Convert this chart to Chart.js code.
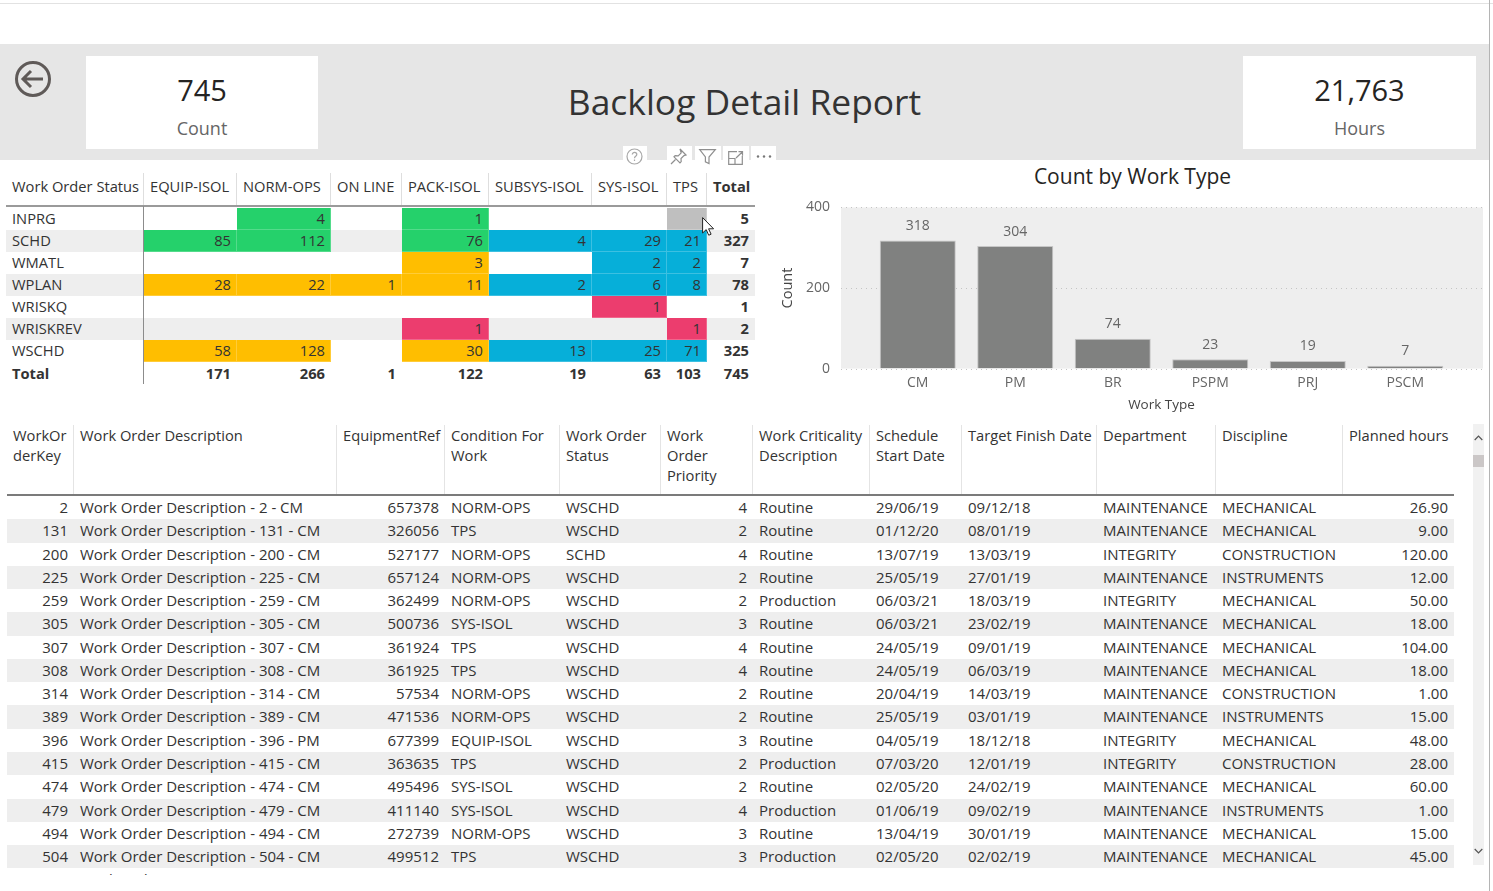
<!DOCTYPE html>
<html>
<head>
<meta charset="utf-8">
<title>Backlog Detail Report</title>
<script src="https://cdn.jsdelivr.net/npm/chart.js@4/dist/chart.umd.min.js"></script>
<style>
html, body { margin: 0; padding: 0; background: #fff; }
body { width: 1493px; height: 891px; overflow: hidden; position: relative; font-family: "Open Sans", sans-serif; color: #333; font-size: 14.7px; }
.abs { position: absolute; }
.topline { left: 0; top: 3px; width: 1493px; height: 1px; background: #e2e2e2; }
.edge { left: 1489px; top: 0; width: 1px; height: 891px; background: #b4b4b4; }
.band { left: 0; top: 44px; width: 1489px; height: 116px; background: #e6e6e6; }
.card { top: 56px; height: 93px; background: #fff; text-align: center; }
.card .val { position: absolute; left: 0; right: 0; top: 14px; font-size: 29px; line-height: 40px; color: #252423; }
.card .lab { position: absolute; left: 0; right: 0; top: 59px; font-size: 18px; line-height: 26px; color: #666; }
.report { left: 0; width: 1489px; top: 77px; text-align: center; font-size: 35.4px; line-height: 48px; color: #333; }
.tab { top: 146px; height: 14px; background: #fff; }
.row { position: absolute; display: flex; }
.cell { box-sizing: border-box; padding: 0 6px; white-space: nowrap; overflow: visible; }
.num { text-align: right; }
.bold { font-weight: 700; }
#matrix { left: 6px; top: 173px; width: 749px; height: 212px; }
#matrix .head { top: 0; height: 34px; border-bottom: 2px solid #9a9a9a; box-sizing: border-box; width: 749px; }
#matrix .head .cell { border-right: 1px solid #dedede; line-height: 26px; }
#matrix .body { line-height: 21px; height: 22px; width: 749px; }
#matrix .filled { box-shadow: inset -1px -1px 0 rgba(255,255,255,.22); }
#matrix .stub { position: absolute; left: 137px; top: 33px; width: 1px; height: 178px; background: #8c8c8c; }
#detail { left: 7px; top: 425px; width: 1447px; height: 450px; overflow: hidden; }
#detail .head { top: 0; height: 71px; width: 1447px; border-bottom: 2px solid #7b7b7b; box-sizing: border-box; }
#detail .head .cell { border-right: 1px solid #e4e4e4; line-height: 20px; white-space: pre; }
#detail .body { height: 23.27px; line-height: 23px; width: 1447px; font-size: 15px; }
.stripe { background: #eeeeee; }
#chartTitle { left: 772px; top: 161px; width: 721px; text-align: center; font-size: 21px; line-height: 30px; color: #252423; }
#chartBox { position: absolute; left: 772px; top: 160px; width: 720px; height: 256px; }
.track { left: 1473px; top: 424px; width: 11px; height: 441px; background: #f1f1f1; }
.thumb { left: 1473px; top: 455px; width: 11px; height: 12px; background: #cbc7c7; }
svg { position: absolute; overflow: visible; }
</style>
</head>
<body>
<div class="abs topline"></div>
<div class="abs band"></div>
<div class="abs edge"></div>

<svg style="left:14px;top:60px" width="38" height="38" viewBox="0 0 38 38" fill="none" stroke="#5f5a58" stroke-width="3">
  <circle cx="19" cy="19" r="16.5"/>
  <path d="M29 19H9M17 11l-8 8 8 8"/>
</svg>

<div class="abs card" style="left:86px;width:232px"><div class="val" id="countVal"></div><div class="lab">Count</div></div>
<div class="abs report">Backlog Detail Report</div>
<div class="abs card" style="left:1243px;width:233px"><div class="val" id="hoursVal"></div><div class="lab">Hours</div></div>

<div class="abs tab" style="left:623px;width:24px"></div>
<div class="abs tab" style="left:667px;width:25px"></div>
<div class="abs tab" style="left:695px;width:26px"></div>
<div class="abs tab" style="left:723px;width:26px"></div>
<div class="abs tab" style="left:751px;width:25px"></div>
<svg style="left:626px;top:148px" width="18" height="18" fill="none" stroke="#a8a8a8" stroke-width="1.2">
  <circle cx="8.5" cy="8.5" r="7.5"/><path d="M6.3 6.6c0-3 4.5-3 4.5 0 0 1.8-2.3 1.7-2.3 3.6M8.5 11.6v1.4"/>
</svg>
<svg style="left:670px;top:148px" width="18" height="18" fill="none" stroke="#8f8f8f" stroke-width="1.2">
  <path d="M10 1l6 6-2 .6-3 3 .2 3-1.2 1.2-6-6 1.2-1.2 3 .2 3-3zM5.5 11.5L1 16"/>
</svg>
<svg style="left:699px;top:149px" width="18" height="16" fill="none" stroke="#8f8f8f" stroke-width="1.2">
  <path d="M.7 .7h15.6L10 8v6.5l-3.6-1.6V8z"/>
</svg>
<svg style="left:728px;top:151px" width="16" height="14" fill="none" stroke="#8f8f8f" stroke-width="1.2">
  <path d="M9 .7H.7v12.6h13.6V5M.7 7.5H7v5.8M8 7L14.5 .7M10.5 .7h4v4"/>
</svg>
<svg style="left:756px;top:155px" width="16" height="4" fill="#777">
  <circle cx="2" cy="1.5" r="1.2"/><circle cx="8" cy="1.5" r="1.2"/><circle cx="14" cy="1.5" r="1.2"/>
</svg>

<div class="abs" id="matrix"></div>
<svg style="left:702px;top:217px" width="13" height="20" fill="#fff" stroke="#222" stroke-width="1">
  <path d="M.6 .6v15.4l3.6-3.4 2.5 5.6 2.4-1-2.5-5.4h5z"/>
</svg>

<div class="abs" id="chartTitle">Count by Work Type</div>
<div id="chartBox"><canvas id="workTypeChart"></canvas></div>

<div class="abs" id="detail"></div>
<div class="abs track"></div>
<div class="abs thumb"></div>
<svg style="left:1474px;top:435px" width="9" height="6" fill="none" stroke="#555" stroke-width="1.2"><path d="M.7 5L4.5 1l3.8 4"/></svg>
<svg style="left:1474px;top:848px" width="9" height="6" fill="none" stroke="#555" stroke-width="1.2"><path d="M.7 1l3.8 4 3.8-4"/></svg>

<script>
// card values
const countTotal = "745"
const hoursTotal = "21,763"

// bar chart
const workTypes = ["CM", "PM", "BR", "PSPM", "PRJ", "PSCM"]
const workTypeCounts = [318, 304, 74, 23, 19, 7]
const countTicks = [0, 200, 400]

// matrix
const conditionCols = ["EQUIP-ISOL", "NORM-OPS", "ON LINE", "PACK-ISOL", "SUBSYS-ISOL", "SYS-ISOL", "TPS"]
const statusRows = ["INPRG", "SCHD", "WMATL", "WPLAN", "WRISKQ", "WRISKREV", "WSCHD"]
const inprgCounts = [null, 4, null, 1, null, null, null]
const schdCounts = [85, 112, null, 76, 4, 29, 21]
const wmatlCounts = [null, null, null, 3, null, 2, 2]
const wplanCounts = [28, 22, 1, 11, 2, 6, 8]
const wriskqCounts = [null, null, null, null, null, 1, null]
const wriskrevCounts = [null, null, null, 1, null, null, 1]
const wschdCounts = [58, 128, null, 30, 13, 25, 71]
const rowTotals = [5, 327, 7, 78, 1, 2, 325]
const colTotals = [171, 266, 1, 122, 19, 63, 103]
const grandTotal = 745

// detail table
const detailHeaders = ["WorkOr\nderKey", "Work Order Description", "EquipmentRef", "Condition For\nWork", "Work Order\nStatus", "Work\nOrder\nPriority", "Work Criticality\nDescription", "Schedule\nStart Date", "Target Finish Date", "Department", "Discipline", "Planned hours"]
const orderKeys = [2, 131, 200, 225, 259, 305, 307, 308, 314, 389, 396, 415, 474, 479, 494, 504, 514]
const orderTypes = ["CM", "CM", "CM", "CM", "CM", "CM", "CM", "CM", "CM", "CM", "PM", "CM", "CM", "CM", "CM", "CM", "CM"]
const equipmentRefs = [657378, 326056, 527177, 657124, 362499, 500736, 361924, 361925, 57534, 471536, 677399, 363635, 495496, 411140, 272739, 499512, 51600]
const conditions = ["NORM-OPS", "TPS", "NORM-OPS", "NORM-OPS", "NORM-OPS", "SYS-ISOL", "TPS", "TPS", "NORM-OPS", "NORM-OPS", "EQUIP-ISOL", "TPS", "SYS-ISOL", "SYS-ISOL", "NORM-OPS", "TPS", "NORM-OPS"]
const statuses = ["WSCHD", "WSCHD", "SCHD", "WSCHD", "WSCHD", "WSCHD", "WSCHD", "WSCHD", "WSCHD", "WSCHD", "WSCHD", "WSCHD", "WSCHD", "WSCHD", "WSCHD", "WSCHD", "WSCHD"]
const priorities = [4, 2, 4, 2, 2, 3, 4, 4, 2, 2, 3, 2, 2, 4, 3, 3, 2]
const criticalities = ["Routine", "Routine", "Routine", "Routine", "Production", "Routine", "Routine", "Routine", "Routine", "Routine", "Routine", "Production", "Routine", "Production", "Routine", "Production", "Routine"]
const startDates = ["29/06/19", "01/12/20", "13/07/19", "25/05/19", "06/03/21", "06/03/21", "24/05/19", "24/05/19", "20/04/19", "25/05/19", "04/05/19", "07/03/20", "02/05/20", "01/06/19", "13/04/19", "02/05/20", "24/03/19"]
const targetDates = ["09/12/18", "08/01/19", "13/03/19", "27/01/19", "18/03/19", "23/02/19", "09/01/19", "06/03/19", "14/03/19", "03/01/19", "18/12/18", "12/01/19", "24/02/19", "09/02/19", "30/01/19", "02/02/19", "27/03/19"]
const departments = ["MAINTENANCE", "MAINTENANCE", "INTEGRITY", "MAINTENANCE", "INTEGRITY", "MAINTENANCE", "MAINTENANCE", "MAINTENANCE", "MAINTENANCE", "MAINTENANCE", "INTEGRITY", "INTEGRITY", "MAINTENANCE", "MAINTENANCE", "MAINTENANCE", "MAINTENANCE", "MAINTENANCE"]
const disciplines = ["MECHANICAL", "MECHANICAL", "CONSTRUCTION", "INSTRUMENTS", "MECHANICAL", "MECHANICAL", "MECHANICAL", "MECHANICAL", "CONSTRUCTION", "INSTRUMENTS", "MECHANICAL", "CONSTRUCTION", "MECHANICAL", "INSTRUMENTS", "MECHANICAL", "MECHANICAL", "INSTRUMENTS"]
const plannedHours = ["26.90", "9.00", "120.00", "12.00", "50.00", "18.00", "104.00", "18.00", "1.00", "15.00", "48.00", "28.00", "60.00", "1.00", "15.00", "45.00", "50.00"]

// styling of the matrix, g green, b blue, a amber, p pink, x hovered
const tones = { g: "#25d16b", b: "#06afd9", a: "#ffbe00", p: "#ec3d6e", x: "#bfbfbf" }
const toneRows = ["-g-g--x", "gg-gbbb", "---a-bb", "aaaabbb", "-----p-", "---p--p", "aa-abbb"]
const matrixWidths = [138, 93, 94, 71, 87, 103, 75, 40, 48]
const detailWidths = [67, 263, 108, 115, 101, 92, 117, 92, 135, 119, 127, 111]
const detailRightAligned = [0, 2, 5, 11]

document.getElementById("countVal").textContent = countTotal
document.getElementById("hoursVal").textContent = hoursTotal

function render_matrix(){
	const counts = [inprgCounts, schdCounts, wmatlCounts, wplanCounts, wriskqCounts, wriskrevCounts, wschdCounts]
	const w = matrixWidths
	let html = `<div class="row head"><div class="cell" style="width:${w[0]}px">Work Order Status</div>`
	conditionCols.forEach((c, i) => { html += `<div class="cell" style="width:${w[i + 1]}px">${c}</div>` })
	html += `<div class="cell bold" style="width:${w[8]}px;border-right:0">Total</div></div>`
	statusRows.forEach((s, r) => {
		html += `<div class="row body ${r % 2 ? "stripe" : ""}" style="top:${35 + r * 22}px"><div class="cell" style="width:${w[0]}px">${s}</div>`
		counts[r].forEach((v, c) => {
			const tone = tones[toneRows[r][c]]
			const bg = tone ? `background:${tone};` : ""
			html += `<div class="cell num ${tone ? "filled" : ""}" style="width:${w[c + 1]}px;${bg}">${v === null ? "" : v}</div>`
		})
		html += `<div class="cell num bold" style="width:${w[8]}px">${rowTotals[r]}</div></div>`
	})
	html += `<div class="row body bold" style="top:${35 + 7 * 22 + 1}px"><div class="cell" style="width:${w[0]}px">Total</div>`
	colTotals.forEach((v, c) => { html += `<div class="cell num" style="width:${w[c + 1]}px">${v}</div>` })
	html += `<div class="cell num" style="width:${w[8]}px">${grandTotal}</div></div><div class="stub"></div>`
	document.getElementById("matrix").innerHTML = html
}

function render_detail(){
	const w = detailWidths
	let html = `<div class="row head">`
	detailHeaders.forEach((h, i) => {
		const last = i == detailHeaders.length - 1 ? "border-right:0;" : ""
		html += `<div class="cell" style="width:${w[i]}px;${last}">${h}</div>`
	})
	html += `</div>`
	orderKeys.forEach((k, r) => {
		const vals = [k, `Work Order Description - ${k} - ${orderTypes[r]}`, equipmentRefs[r], conditions[r], statuses[r], priorities[r], criticalities[r], startDates[r], targetDates[r], departments[r], disciplines[r], plannedHours[r]]
		html += `<div class="row body ${r % 2 ? "stripe" : ""}" style="top:${71 + r * 23.27}px">`
		vals.forEach((v, i) => {
			const cls = detailRightAligned.includes(i) ? "cell num" : "cell"
			html += `<div class="${cls}" style="width:${w[i]}px">${v}</div>`
		})
		html += `</div>`
	})
	document.getElementById("detail").innerHTML = html
}

// grey panel and dotted grid run a bit wider than the category band
const panelPlugin = {
	id: "panel",
	beforeDatasetsDraw(chart){
		const { ctx, chartArea, scales } = chart
		const left = chartArea.left - 28
		const right = chartArea.right + 29
		ctx.save()
		ctx.fillStyle = "#eeeeee"
		ctx.fillRect(left, chartArea.top, right - left, chartArea.height)
		ctx.strokeStyle = "#c4c4c4"
		ctx.lineWidth = 1
		ctx.setLineDash([1, 4])
		countTicks.forEach(v => {
			const y = Math.round(scales.y.getPixelForValue(v)) + 0.5
			ctx.beginPath()
			ctx.moveTo(left, y)
			ctx.lineTo(right, y)
			ctx.stroke()
		})
		ctx.restore()
	}
}

const barLabelPlugin = {
	id: "barLabels",
	afterDatasetsDraw(chart){
		const { ctx } = chart
		ctx.save()
		ctx.font = '14px "Open Sans"'
		ctx.fillStyle = "#666666"
		ctx.textAlign = "center"
		ctx.textBaseline = "middle"
		chart.getDatasetMeta(0).data.forEach((bar, i) => {
			ctx.fillText(workTypeCounts[i], bar.x, bar.y - 14.5)
		})
		ctx.restore()
	}
}

function render_chart(){
	Chart.defaults.font.family = '"Open Sans", sans-serif'
	new Chart(document.getElementById("workTypeChart"), {
		type: "bar",
		data: {
			labels: workTypes,
			datasets: [{
				data: workTypeCounts,
				backgroundColor: "#808180",
				borderColor: "#c6c6c6",
				borderWidth: 1,
				borderSkipped: "bottom",
				barPercentage: 0.78,
				categoryPercentage: 1
			}]
		},
		options: {
			responsive: true,
			maintainAspectRatio: false,
			animation: false,
			layout: { padding: { left: 0, right: 38, top: 44, bottom: 0 } },
			plugins: {
				legend: { display: false },
				tooltip: { enabled: false }
			},
			scales: {
				x: {
					grid: { display: false, drawTicks: false },
					border: { display: false },
					ticks: { color: "#666666", font: { size: 14 }, padding: 6 },
					title: { display: true, text: "Work Type", color: "#444444", font: { size: 13.5 }, padding: { top: 4, bottom: 0 } },
					afterFit(scale){ scale.height = 45 }
				},
				y: {
					min: 0,
					max: 400,
					grid: { display: false, drawTicks: false },
					border: { display: false },
					afterBuildTicks(scale){ scale.ticks = countTicks.map(v => ({ value: v })) },
					ticks: { color: "#666666", font: { size: 14 }, padding: 39 },
					title: { display: true, text: "Count", color: "#444444", font: { size: 14.5 }, padding: { top: 7, bottom: 0 } },
					afterFit(scale){ scale.width = 97 }
				}
			}
		},
		plugins: [panelPlugin, barLabelPlugin]
	})
}

render_matrix()
render_detail()
render_chart()
</script>
</body>
</html>
